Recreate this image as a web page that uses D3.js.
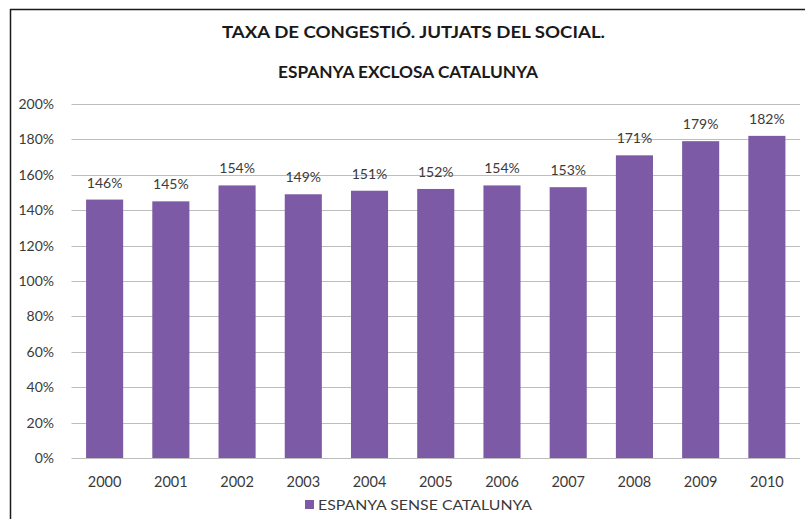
<!DOCTYPE html>
<html>
<head>
<meta charset="utf-8">
<script src="https://cdn.jsdelivr.net/npm/d3@7"></script>
<style>
  html, body { margin: 0; padding: 0; background: #fff; }
  svg { display: block; }
</style>
</head>
<body>
<svg id="chart" width="805" height="519"></svg>
<script>
const titleLines = ["TAXA DE CONGESTIÓ. JUTJATS DEL SOCIAL.", "ESPANYA EXCLOSA CATALUNYA"];
const years = ["2000","2001","2002","2003","2004","2005","2006","2007","2008","2009","2010"];
const values = [1.46, 1.45, 1.54, 1.49, 1.51, 1.52, 1.54, 1.53, 1.71, 1.79, 1.82];
const valueLabels = ["146%","145%","154%","149%","151%","152%","154%","153%","171%","179%","182%"];
const yTicks = [0, 0.2, 0.4, 0.6, 0.8, 1.0, 1.2, 1.4, 1.6, 1.8, 2.0];
const seriesName = "ESPANYA SENSE CATALUNYA";

const W = 805, H = 519;
const plot = { left: 71.5, right: 800, top: 104, bottom: 458 };
const barColor = "#7D5AA5";
const textColor = "#3a3a3a";
const font = "Lato, 'Open Sans', sans-serif";

const svg = d3.select("#chart");

// frame lines (top and left)
svg.append("line").attr("x1", 10).attr("x2", W).attr("y1", 9.5).attr("y2", 9.5)
  .attr("stroke", "#1a1a1a").attr("stroke-width", 1.5);
svg.append("line").attr("x1", 10.5).attr("x2", 10.5).attr("y1", 9).attr("y2", H)
  .attr("stroke", "#1a1a1a").attr("stroke-width", 1.5);

const x = d3.scaleBand().domain(years).range([plot.left, plot.right])
  .paddingInner(0.44).paddingOuter(0.22);
const y = d3.scaleLinear().domain([0, 2]).range([plot.bottom, plot.top]);

// gridlines
svg.append("g").selectAll("line").data(yTicks).join("line")
  .attr("x1", plot.left).attr("x2", plot.right)
  .attr("y1", d => Math.round(y(d)) + 0.5).attr("y2", d => Math.round(y(d)) + 0.5)
  .attr("stroke", "#bdbdbd").attr("stroke-width", 1.2);

// y axis labels
const yAxis = d3.axisLeft(y).tickValues(yTicks).tickFormat(d3.format(".0%")).tickSize(0).tickPadding(0);
const yg = svg.append("g").attr("transform", `translate(${54},0)`).call(yAxis);
yg.select(".domain").remove();
yg.selectAll("text").attr("font-family", font).attr("font-size", 14).attr("fill", textColor);

// bars
svg.append("g").selectAll("rect").data(values).join("rect")
  .attr("x", (d, i) => x(years[i]))
  .attr("width", x.bandwidth())
  .attr("y", d => y(d))
  .attr("height", d => y(0) - y(d))
  .attr("fill", barColor);

// value labels
svg.append("g").selectAll("text").data(values).join("text")
  .attr("x", (d, i) => x(years[i]) + x.bandwidth() / 2)
  .attr("y", d => y(d) - 12)
  .attr("text-anchor", "middle")
  .attr("font-family", font).attr("font-size", 14).attr("fill", textColor)
  .text((d, i) => valueLabels[i]);

// x axis labels
const xAxis = d3.axisBottom(x).tickSize(0).tickPadding(0);
const xg = svg.append("g").attr("transform", `translate(0,${487})`).call(xAxis);
xg.select(".domain").remove();
xg.selectAll("text").attr("dy", 0).attr("font-family", font).attr("font-size", 14.5).attr("fill", textColor);

// title
const titleWidths = [383, 260];
svg.append("g").selectAll("text").data(titleLines).join("text")
  .attr("x", (d, i) => i === 0 ? 222 : 278)
  .attr("y", (d, i) => i === 0 ? 37.5 : 77.5)
  .attr("font-family", font).attr("font-weight", "bold").attr("font-size", 17)
  .attr("fill", "#1a1a1a")
  .attr("textLength", (d, i) => titleWidths[i]).attr("lengthAdjust", "spacingAndGlyphs")
  .text(d => d);

// legend
const lg = svg.append("g");
lg.append("rect").attr("x", 305).attr("y", 500).attr("width", 9).attr("height", 9).attr("fill", barColor);
lg.append("text").attr("x", 318).attr("y", 510)
  .attr("font-family", font).attr("font-size", 14).attr("fill", textColor)
  .attr("textLength", 214).attr("lengthAdjust", "spacingAndGlyphs")
  .text(seriesName);
</script>
</body>
</html>
